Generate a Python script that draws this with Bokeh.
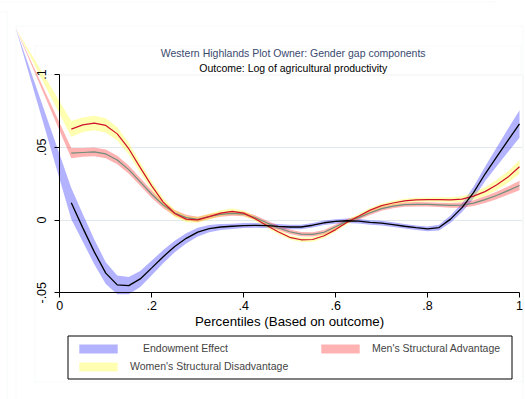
import math
from bokeh.plotting import figure
from bokeh.models import (Range1d, LinearAxis, FixedTicker, Grid, Legend, LegendItem,
                          BoxAnnotation, Label)
from bokeh.embed import file_html
from bokeh.resources import INLINE

# ---------------- data ----------------
percentile = [0.025, 0.05, 0.075, 0.1, 0.125, 0.15, 0.175, 0.2, 0.225, 0.25,
              0.275, 0.3, 0.325, 0.35, 0.375, 0.4, 0.425, 0.45, 0.475, 0.5,
              0.525, 0.55, 0.575, 0.6, 0.625, 0.65, 0.675, 0.7, 0.725, 0.75,
              0.775, 0.8, 0.825, 0.85, 0.875, 0.9, 0.925, 0.95, 0.975, 1.0]

endowment = [0.0118, -0.0054, -0.0219, -0.0365, -0.0446, -0.0451, -0.0405, -0.0329, -0.0252, -0.0182,
             -0.0126, -0.0083, -0.0060, -0.0048, -0.0043, -0.0038, -0.0037, -0.0039, -0.0044, -0.0048,
             -0.0048, -0.0036, -0.0019, -0.0010, -0.0005, -0.0008, -0.0017, -0.0022, -0.0032, -0.0043,
             -0.0053, -0.0061, -0.0052, 0.0006, 0.0085, 0.0188, 0.0316, 0.0432, 0.0547, 0.0660]
endowment_lo = [0.0005, -0.0149, -0.0304, -0.0440, -0.0511, -0.0511, -0.0460, -0.0379, -0.0297, -0.0222,
                -0.0161, -0.0113, -0.0085, -0.0068, -0.0061, -0.0055, -0.0053, -0.0055, -0.0060, -0.0064,
                -0.0064, -0.0052, -0.0035, -0.0026, -0.0021, -0.0024, -0.0033, -0.0038, -0.0048, -0.0059,
                -0.0069, -0.0078, -0.0072, -0.0019, 0.0055, 0.0148, 0.0266, 0.0367, 0.0467, 0.0565]
endowment_hi = [0.0220, 0.0041, -0.0134, -0.0290, -0.0381, -0.0391, -0.0350, -0.0279, -0.0207, -0.0142,
                -0.0091, -0.0053, -0.0035, -0.0028, -0.0025, -0.0021, -0.0021, -0.0023, -0.0028, -0.0032,
                -0.0032, -0.0020, -0.0003, 0.0006, 0.0011, 0.0008, -0.0001, -0.0006, -0.0016, -0.0027,
                -0.0037, -0.0044, -0.0032, 0.0031, 0.0115, 0.0228, 0.0366, 0.0497, 0.0627, 0.0755]

men = [0.0459, 0.0464, 0.0468, 0.0454, 0.0412, 0.0346, 0.0262, 0.0177, 0.0103, 0.0048,
       0.0016, 0.0004, 0.0024, 0.0038, 0.0045, 0.0041, 0.0017, -0.0019, -0.0053, -0.0081,
       -0.0097, -0.0099, -0.0084, -0.0046, -0.0008, 0.0016, 0.0050, 0.0078, 0.0095, 0.0106,
       0.0108, 0.0107, 0.0104, 0.0100, 0.0102, 0.0116, 0.0140, 0.0168, 0.0202, 0.0237]
men_lo = [0.0424, 0.0434, 0.0438, 0.0424, 0.0383, 0.0318, 0.0235, 0.0152, 0.0080, 0.0027,
          -0.0004, -0.0014, 0.0007, 0.0022, 0.0030, 0.0026, 0.0002, -0.0034, -0.0068, -0.0096,
          -0.0112, -0.0114, -0.0099, -0.0061, -0.0023, 0.0001, 0.0035, 0.0063, 0.0080, 0.0091,
          0.0093, 0.0092, 0.0089, 0.0084, 0.0084, 0.0096, 0.0117, 0.0142, 0.0173, 0.0204]
men_hi = [0.0494, 0.0494, 0.0498, 0.0484, 0.0441, 0.0374, 0.0289, 0.0202, 0.0126, 0.0069,
          0.0036, 0.0022, 0.0041, 0.0054, 0.0060, 0.0056, 0.0032, -0.0004, -0.0038, -0.0066,
          -0.0082, -0.0084, -0.0069, -0.0031, 0.0007, 0.0031, 0.0065, 0.0093, 0.0110, 0.0121,
          0.0123, 0.0122, 0.0119, 0.0116, 0.0120, 0.0136, 0.0163, 0.0194, 0.0231, 0.0270]

women = [0.0625, 0.0654, 0.0666, 0.0650, 0.0592, 0.0490, 0.0360, 0.0235, 0.0123, 0.0045,
         0.0006, 0.0001, 0.0023, 0.0047, 0.0059, 0.0047, 0.0009, -0.0038, -0.0081, -0.0119,
         -0.0136, -0.0134, -0.0108, -0.0066, -0.0015, 0.0026, 0.0068, 0.0099, 0.0117, 0.0131,
         0.0138, 0.0140, 0.0140, 0.0138, 0.0143, 0.0164, 0.0195, 0.0240, 0.0295, 0.0366]
women_lo = [0.0570, 0.0604, 0.0616, 0.0600, 0.0547, 0.0450, 0.0325, 0.0205, 0.0095, 0.0020,
            -0.0016, -0.0019, 0.0003, 0.0027, 0.0039, 0.0029, -0.0007, -0.0053, -0.0096, -0.0134,
            -0.0151, -0.0149, -0.0123, -0.0081, -0.0030, 0.0011, 0.0053, 0.0084, 0.0102, 0.0116,
            0.0123, 0.0125, 0.0124, 0.0120, 0.0123, 0.0139, 0.0165, 0.0205, 0.0255, 0.0318]
women_hi = [0.0680, 0.0704, 0.0716, 0.0700, 0.0637, 0.0530, 0.0395, 0.0265, 0.0151, 0.0070,
            0.0028, 0.0021, 0.0043, 0.0067, 0.0079, 0.0065, 0.0025, -0.0023, -0.0066, -0.0104,
            -0.0121, -0.0119, -0.0093, -0.0051, 0.0000, 0.0041, 0.0083, 0.0114, 0.0132, 0.0146,
            0.0153, 0.0155, 0.0156, 0.0156, 0.0163, 0.0189, 0.0225, 0.0275, 0.0335, 0.0410]

# first vertex of every band polygon (a quirk of the original graph)
band_anchor_x = -0.096
band_anchor_y = 0.132

x_ticks = [0, 0.2, 0.4, 0.6, 0.8, 1.0]
x_tick_labels = ["0", ".2", ".4", ".6", ".8", "1"]
y_ticks = [-0.05, 0, 0.05, 0.1]
y_tick_labels = ["-.05", "0", ".05", ".1"]
grid_ticks = [0, 0.05]

title_text = "Western Highlands Plot Owner: Gender gap components"
subtitle_text = "Outcome: Log of agricultural productivity"
x_label = "Percentiles (Based on outcome)"
legend_labels = ["Endowment Effect", "Men's Structural Advantage", "Women's Structural Disadvantage"]

# ---------------- layout helpers ----------------
W, H = 525, 399
PX_X0, PX_X1 = 59.3, 519.0        # pixel columns of x = 0 and x = 1
PX_Y0, PX_PER_Y = 219.5, 1455.0    # pixel row of y = 0, pixels per unit of y
FONT = "Liberation Sans"
LIGHT = "#e1e9ec"


def dx(px):
    return (px - PX_X0) / (PX_X1 - PX_X0)


def dy(py):
    return (PX_Y0 - py) / PX_PER_Y


p = figure(width=W, height=H,
           x_range=Range1d(dx(0), dx(W)), y_range=Range1d(dy(H), dy(0)),
           x_axis_type=None, y_axis_type=None,
           output_backend="svg", toolbar_location=None,
           min_border=0, outline_line_color=None,
           background_fill_color="white", border_fill_color="white")

# decorative light frames (Stata graph / plot regions)
for (l, t, r, b) in [(-5, -5, 495.5, 1.5), (-5, 11.5, 6.5, 420), (15.5, 25.5, 522.5, 420),
                     (34.5, 45.5, 520.5, 74.5), (34.5, 74.5, 522.5, 381.5)]:
    p.add_layout(BoxAnnotation(left=dx(l), right=dx(r), top=dy(t), bottom=dy(b),
                               fill_alpha=0, line_color=LIGHT, line_width=1, level="underlay"))

# horizontal grid lines limited to the plot region
if "cross_bounds" in Grid.properties():
    grid = Grid(dimension=1, ticker=FixedTicker(ticks=grid_ticks),
                cross_bounds=(0, dx(522)), grid_line_color=LIGHT, grid_line_width=1)
    p.add_layout(grid)
else:
    for g in grid_ticks:
        p.add_layout(BoxAnnotation(left=0, right=dx(522), top=g, bottom=g, fill_alpha=0,
                                   line_color=LIGHT, line_width=1, level="underlay"))


def band_xy(lo, hi):
    xs = [band_anchor_x] + percentile + percentile[::-1]
    ys = [band_anchor_y] + hi + lo[::-1]
    return xs, ys


bx, by = band_xy(endowment_lo, endowment_hi)
blue_band = p.patch(bx, by, fill_color="blue", fill_alpha=0.3, line_color=None)
mx, my = band_xy(men_lo, men_hi)
pink_band = p.patch(mx, my, fill_color="red", fill_alpha=0.3, line_color=None)
wx, wy = band_xy(women_lo, women_hi)
yellow_band = p.patch(wx, wy, fill_color="yellow", fill_alpha=0.3, line_color=None)

p.line(percentile, men, line_color="#6e8f7c", line_width=1.2)
p.line(percentile, women, line_color="#d0102a", line_width=1.2)
p.line(percentile, endowment, line_color="black", line_width=1.3)

# axes
xaxis = LinearAxis(fixed_location=-0.05, bounds=(0, 1),
                   ticker=FixedTicker(ticks=x_ticks),
                   major_label_overrides={t: s for t, s in zip(x_ticks, x_tick_labels)},
                   axis_label=x_label, axis_label_standoff=1,
                   axis_label_text_font=FONT, axis_label_text_font_size="13.3px",
                   axis_label_text_font_style="normal", axis_label_text_color="black",
                   major_label_text_font=FONT, major_label_text_font_size="12.5px",
                   major_label_text_color="black", major_label_standoff=3,
                   major_tick_out=5, major_tick_in=0, minor_tick_out=0, minor_tick_in=0,
                   axis_line_color="black", major_tick_line_color="black")
p.add_layout(xaxis, "below")

yaxis = LinearAxis(fixed_location=0, bounds=(-0.05, 0.1),
                   ticker=FixedTicker(ticks=y_ticks),
                   major_label_overrides={t: s for t, s in zip(y_ticks, y_tick_labels)},
                   major_label_orientation="vertical",
                   major_label_text_font=FONT, major_label_text_font_size="12.5px",
                   major_label_text_color="black", major_label_standoff=9,
                   major_tick_out=5, major_tick_in=0, minor_tick_out=0, minor_tick_in=0,
                   axis_line_color="black", major_tick_line_color="black")
p.add_layout(yaxis, "left")

# titles
p.add_layout(Label(x=dx(292.7), y=dy(52.5), text=title_text, text_align="center",
                   text_baseline="middle", text_font=FONT, text_font_size="10.5px",
                   text_color="#3a4a70"))
p.add_layout(Label(x=dx(292.7), y=dy(67.8), text=subtitle_text, text_align="center",
                   text_baseline="middle", text_font=FONT, text_font_size="10.5px",
                   text_color="black"))

# legend: black frame plus three borderless legends placed like the original
p.add_layout(BoxAnnotation(left=dx(67.5), right=dx(511.5), top=dy(335.5), bottom=dy(378.5),
                           fill_color="white", fill_alpha=1, line_color="black",
                           line_width=1, line_alpha=1))
common = dict(glyph_width=48, glyph_height=11, label_height=11, orientation="vertical",
              padding=0, spacing=0, border_line_color=None, background_fill_alpha=0,
              label_text_font=FONT, label_text_font_size="10.5px", margin=0)
leg_endow = Legend(items=[LegendItem(label=legend_labels[0], renderers=[blue_band])],
                   location=(74, 45), label_standoff=21, **common)
leg_men = Legend(items=[LegendItem(label=legend_labels[1], renderers=[pink_band])],
                 location=(316, 45), label_standoff=8, **common)
leg_women = Legend(items=[LegendItem(label=legend_labels[2], renderers=[yellow_band])],
                   location=(74, 27), label_standoff=8, **common)
p.add_layout(leg_endow)
p.add_layout(leg_men)
p.add_layout(leg_women)

open("out.html", "w").write(file_html(p, INLINE))
